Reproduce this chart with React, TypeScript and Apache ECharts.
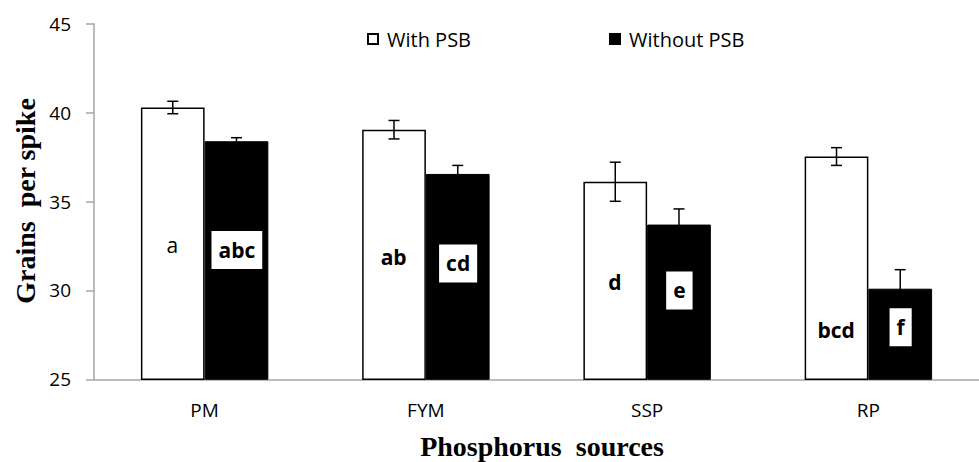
import React, { useEffect, useRef } from "react";
import * as echarts from "echarts";

const categories = ["PM", "FYM", "SSP", "RP"];
const seriesNames = ["With PSB", "Without PSB"];
const withPSB = [40.3, 39.05, 36.12, 37.54];
const withoutPSB = [38.4, 36.56, 33.71, 30.1];
const withPSBErr = [0.35, 0.52, 1.1, 0.5];
const withoutPSBErr = [0.2, 0.48, 0.88, 1.07];
const withLetters = ["a", "ab", "d", "bcd"];
const withLetterY = [32.55, 31.9, 30.45, 27.8];
const withoutLetters = ["abc", "cd", "e", "f"];
const withoutLetterY = [32.28, 31.52, 30.0, 27.93];
const yMin = 25;
const yMax = 45;
const yInterval = 5;
const yTitle = "Grains  per spike";
const xTitle = "Phosphorus  sources";

const BAR_FRAC = 0.288;
const SANS = "'Open Sans', 'Noto Sans', sans-serif";
const SERIF = "'Liberation Serif', 'DejaVu Serif', serif";

function makeErr(sign: number) {
  return (params: any, api: any) => {
    const i = api.value(0);
    const v = api.value(1);
    const e = api.value(2);
    const band = api.size([1, 0])[0];
    const dx = (sign * band * BAR_FRAC) / 2;
    const top = api.coord([i, v + e]);
    const bot = api.coord([i, v - e]);
    const x = top[0] + dx;
    const cap = 5.5;
    const style = { stroke: "#000", lineWidth: 1.5 };
    return {
      type: "group",
      children: [
        { type: "line", shape: { x1: x, y1: top[1], x2: x, y2: bot[1] }, style },
        { type: "line", shape: { x1: x - cap, y1: top[1], x2: x + cap, y2: top[1] }, style },
        { type: "line", shape: { x1: x - cap, y1: bot[1], x2: x + cap, y2: bot[1] }, style },
      ],
    };
  };
}

export default function App() {
  const ref = useRef<HTMLDivElement>(null);
  useEffect(() => {
    document.body.style.margin = "0";
    const chart = echarts.init(ref.current!, null, { renderer: "svg" });
    const letterOffset = 32.25;
    chart.setOption({
      animation: false,
      backgroundColor: "#fff",
      grid: { left: 94, top: 24, bottom: 82.7, right: -11, containLabel: false },
      legend: {
        data: seriesNames,
        left: 362,
        top: 24,
        icon: "rect",
        itemWidth: 10,
        itemHeight: 10,
        itemGap: 138,
        textStyle: { fontSize: 20, fontFamily: SANS, color: "#000", padding: [0, 0, 0, 4] },
      },
      xAxis: {
        type: "category",
        data: categories,
        axisLine: { show: true, lineStyle: { color: "#a6a6a6", width: 1.5 } },
        axisTick: { show: false },
        axisLabel: { fontSize: 19, fontFamily: SANS, color: "#000", margin: 21 },
        splitLine: { show: false },
      },
      yAxis: {
        type: "value",
        min: yMin,
        max: yMax,
        interval: yInterval,
        axisLine: { show: true, lineStyle: { color: "#a6a6a6", width: 1.5 } },
        axisTick: { show: true, length: 8, lineStyle: { color: "#a6a6a6", width: 1.5 } },
        axisLabel: { fontSize: 19, fontFamily: SANS, color: "#000", margin: 23 },
        splitLine: { show: false },
      },
      graphic: [
        {
          type: "text",
          x: 25,
          y: 201,
          rotation: Math.PI / 2,
          style: {
            text: yTitle,
            fontFamily: SERIF,
            fontWeight: "bold",
            fontSize: 28,
            fill: "#000",
            textAlign: "center",
            textVerticalAlign: "middle",
          },
        },
        {
          type: "text",
          x: 542,
          y: 446,
          style: {
            text: xTitle,
            fontFamily: SERIF,
            fontWeight: "bold",
            fontSize: 28,
            fill: "#000",
            textAlign: "center",
            textVerticalAlign: "middle",
          },
        },
      ],
      series: [
        {
          name: seriesNames[0],
          type: "bar",
          data: withPSB,
          barWidth: BAR_FRAC * 100 + "%",
          barGap: "0%",
          itemStyle: { color: "#fff", borderColor: "#000", borderWidth: 1.5 },
        },
        {
          name: seriesNames[1],
          type: "bar",
          data: withoutPSB,
          barWidth: BAR_FRAC * 100 + "%",
          barGap: "0%",
          itemStyle: { color: "#000", borderColor: "#000", borderWidth: 1 },
        },
        {
          type: "custom",
          renderItem: makeErr(-1),
          data: categories.map((c, i) => [i, withPSB[i], withPSBErr[i]]),
          encode: { x: 0, y: 1 },
          z: 5,
          silent: true,
        },
        {
          type: "custom",
          renderItem: makeErr(1),
          data: categories.map((c, i) => [i, withoutPSB[i], withoutPSBErr[i]]),
          encode: { x: 0, y: 1 },
          z: 5,
          silent: true,
        },
        {
          type: "scatter",
          symbolSize: 1,
          itemStyle: { color: "rgba(0,0,0,0)", opacity: 1 },
          z: 6,
          silent: true,
          data: withLetterY.map((y, i) => ({
            value: [i, y],
            label: {
              show: true,
              position: "inside",
              offset: [-letterOffset, 0],
              formatter: withLetters[i],
              fontFamily: SANS,
              fontSize: 21,
              color: "#000",
              fontWeight: i === 0 ? "normal" : "bold",
            },
          })),
        },
        {
          type: "scatter",
          symbolSize: 1,
          itemStyle: { color: "rgba(0,0,0,0)", opacity: 1 },
          z: 6,
          silent: true,
          data: withoutLetterY.map((y, i) => ({
            value: [i, y],
            label: {
              show: true,
              position: "inside",
              offset: [letterOffset, 0],
              formatter: withoutLetters[i],
              fontFamily: SANS,
              fontSize: 21,
              color: "#000",
              fontWeight: "bold",
              backgroundColor: "#fff",
              padding: [8, 7],
              lineHeight: 22,
            },
          })),
        },
      ],
    });
    return () => chart.dispose();
  }, []);
  return <div ref={ref} style={{ width: 979, height: 462 }} />;
}
